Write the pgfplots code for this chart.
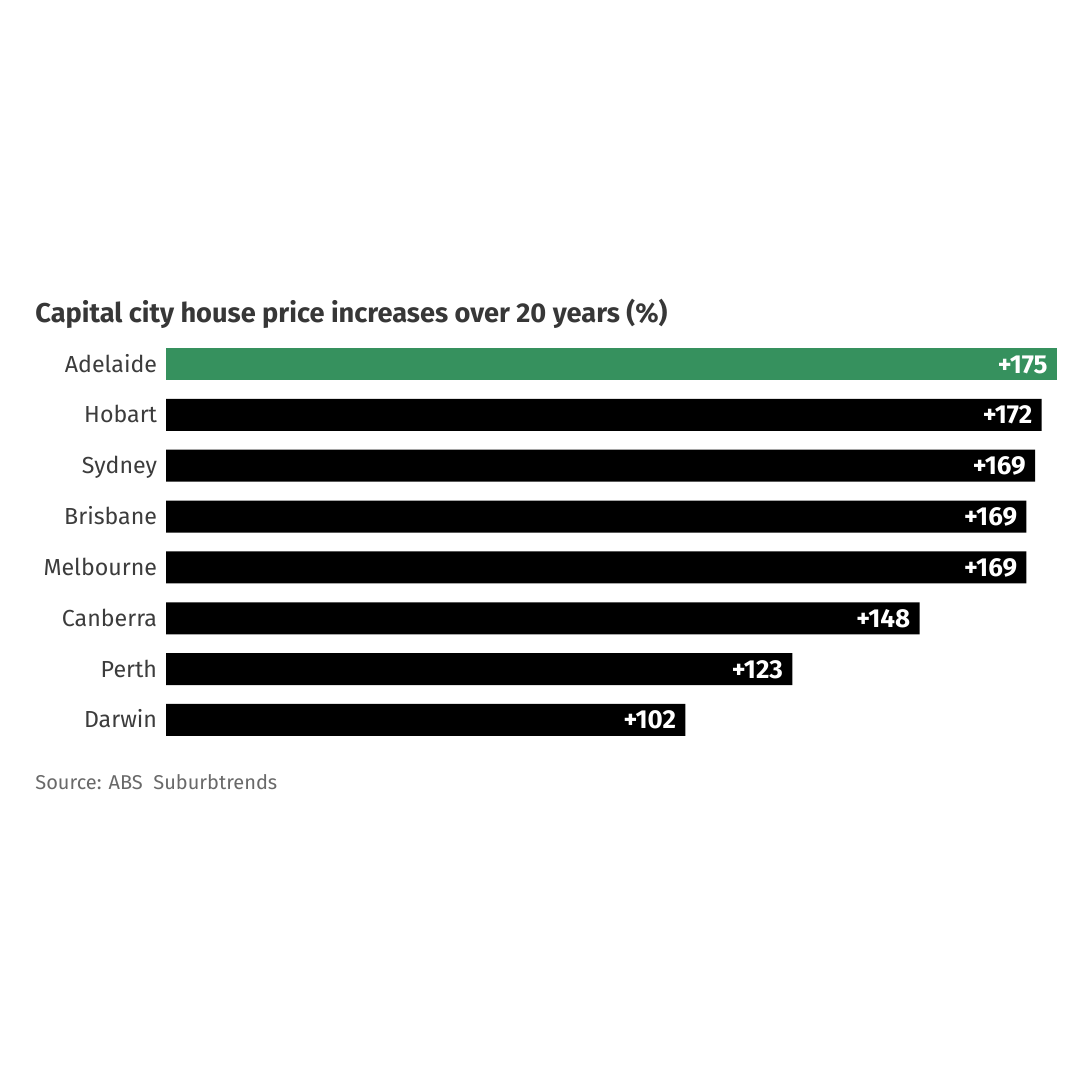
\documentclass[border=0pt]{standalone}
\usepackage{pgfplots}
\usepackage{pgfplotstable}
\pgfplotsset{compat=1.18}
\usepackage{fontspec}
\setmainfont{Fira Sans}
\definecolor{bargreen}{RGB}{54,145,94}
\definecolor{labgray}{RGB}{60,60,60}
\definecolor{titlegray}{RGB}{55,55,55}
\definecolor{srcgray}{RGB}{105,105,105}
\pgfplotstableread{
y x lab
0 175 +175
}\adelaide
\pgfplotstableread{
y x lab
1 172 +172
2 170.7 +169
3 169 +169
4 169 +169
5 148 +148
6 123 +123
7 102 +102
}\others
\begin{document}
\begin{tikzpicture}[x=0.5pt,y=0.5pt]
\path[use as bounding box, fill=white] (0,0) rectangle (1080,1080);
\begin{axis}[
  at={(83pt,167.3pt)}, anchor=south west,
  scale only axis, width=445.5pt, height=203.4pt,
  xmin=0, xmax=175, ymin=-0.5, ymax=7.5, y dir=reverse,
  axis line style={draw=none}, tick style={draw=none},
  xtick=\empty,
  ytick={0,1,2,3,4,5,6,7},
  yticklabels={Adelaide,Hobart,Sydney,Brisbane,Melbourne,Canberra,Perth,Darwin},
  yticklabel style={font=\fontsize{11.6}{14}\selectfont, text=labgray, anchor=east, inner sep=0pt, text height=8.0pt, text depth=0pt, xshift=0pt},
  xbar, bar width=16pt, bar shift=0pt,
  point meta=explicit symbolic,
  nodes near coords,
  every node near coord/.append style={anchor=east, inner sep=0pt, text height=9.0pt, text depth=0pt, xshift=-4.5pt, text=white, font=\bfseries\fontsize{13}{15}\selectfont},
  clip=false,
]
\addplot[fill=bargreen, draw=none] table[x=x, y=y, meta=lab] {\adelaide};
\addplot[fill=black, draw=none] table[x=x, y=y, meta=lab] {\others};
\end{axis}
\node[anchor=base west, inner sep=0pt, text=titlegray, font=\bfseries\fontsize{13.6}{16}\selectfont] at (35,757) {Capital city house price increases over 20 years (\%)};
\node[anchor=base west, inner sep=0pt, text=srcgray, font=\fontsize{10}{12}\selectfont] at (35,290) {Source: ABS\ \ Suburbtrends};
\end{tikzpicture}
\end{document}
